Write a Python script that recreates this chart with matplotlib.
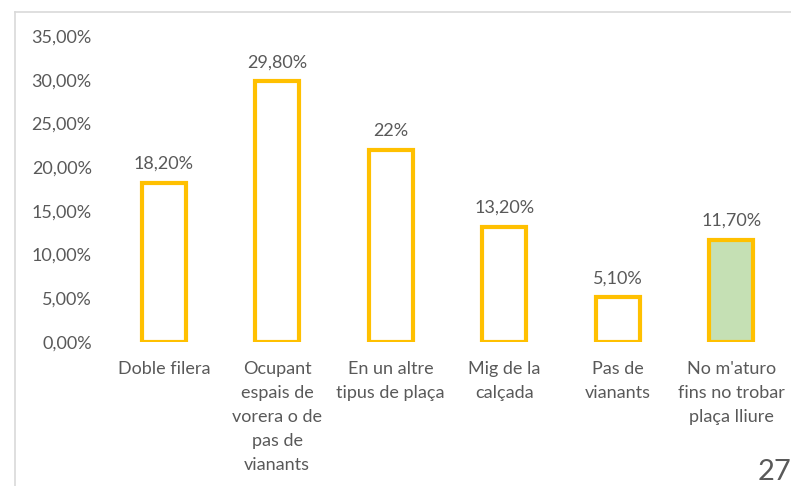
import matplotlib.pyplot as plt
from matplotlib.lines import Line2D

categories = [
    "Doble filera",
    "Ocupant\nespais de\nvorera o de\npas de\nvianants",
    "En un altre\ntipus de plaça",
    "Mig de la\ncalçada",
    "Pas de\nvianants",
    "No m'aturo\nfins no trobar\nplaça lliure",
]
values = [18.2, 29.8, 22.0, 13.2, 5.1, 11.7]
value_labels = ["18,20%", "29,80%", "22%", "13,20%", "5,10%", "11,70%"]
fills = ["white", "white", "white", "white", "white", "#C5E0B4"]
yticks = [0, 5, 10, 15, 20, 25, 30, 35]

W, H = 791, 486
fig = plt.figure(figsize=(W / 100, H / 100), dpi=100)
plt.rcParams["font.family"] = ["Lato", "DejaVu Sans"]
txt = "#595959"
fs = 13

# plot area in pixel coordinates
left, right, top, bottom = 107, 788, 36, 342
ax = fig.add_axes([left / W, 1 - bottom / H, (right - left) / W, (bottom - top) / H])

x = range(len(categories))
ax.bar(x, values, width=0.39, color=fills, edgecolor="#FFC000", linewidth=3.0)
for xi, v, lab in zip(x, values, value_labels):
    ax.annotate(lab, (xi, v), xytext=(0, 8), textcoords="offset points",
                ha="center", va="bottom", fontsize=fs, color=txt)

ax.set_xlim(-0.5, len(categories) - 0.5)
ax.set_ylim(0, 35)
ax.set_yticks(yticks)
ax.set_yticklabels([f"{t},00%" for t in yticks], fontsize=fs, color=txt)
ax.set_xticks(list(x))
ax.set_xticklabels(categories, fontsize=fs, color=txt, linespacing=1.62)
ax.tick_params(axis="both", length=0)
ax.tick_params(axis="y", pad=11)
ax.tick_params(axis="x", pad=13.5)
for s in ax.spines.values():
    s.set_visible(False)
ax.patch.set_alpha(0)

# slide frame
frame = "#D9D9D9"
fig.add_artist(Line2D([15 / W, 1], [1 - 12 / H, 1 - 12 / H], color=frame, lw=1.2))
fig.add_artist(Line2D([15 / W, 15 / W], [0, 1 - 12 / H], color=frame, lw=1.2))

# page number
fig.text(791 / W, 1 - 485 / H, "27", fontsize=21, color="#595959", ha="right", va="bottom")

fig.savefig("out.png", dpi=100)
